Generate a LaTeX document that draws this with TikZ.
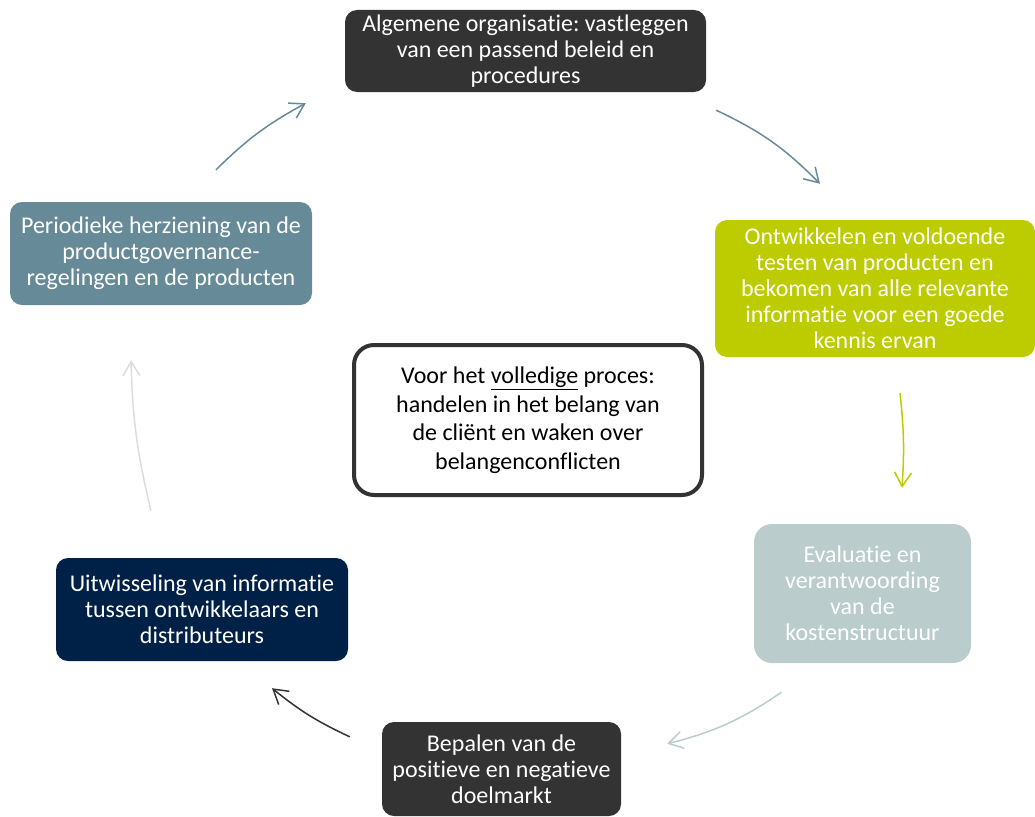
\documentclass[tikz,border=0pt]{standalone}
\usepackage{fontspec}
\setmainfont{Carlito}[Ligatures=NoCommon]
\usetikzlibrary{arrows.meta}
\definecolor{darkbox}{HTML}{333333}
\definecolor{limebox}{HTML}{BDCC00}
\definecolor{evalbox}{HTML}{BACCCC}
\definecolor{navybox}{HTML}{002147}
\definecolor{slatebox}{HTML}{678A99}
\definecolor{lightarrow}{HTML}{DCDCDC}
\tikzset{
  stage/.style={rounded corners=12pt,inner sep=0pt,text=white,align=center,
    font=\fontsize{24}{26}\selectfont},
  cyc/.style={line width=1.5pt,-{Straight Barb[length=14pt,width=17pt,line width=1.5pt]}},
}
\frenchspacing
\begin{document}
\begin{tikzpicture}[x=1pt,y=-1pt]
\useasboundingbox (0,0) rectangle (1035,816);
% the six steps of the cycle
\node (org) [stage,fill=darkbox,minimum width=361pt,minimum height=82pt] at (525.5,51)
  {Algemene organisatie: vastleggen\\van een passend beleid en\\procedures};
\node (dev) [stage,fill=limebox,minimum width=320pt,minimum height=137pt] at (875,288.5)
  {Ontwikkelen en voldoende\\testen van producten en\\bekomen van alle relevante\\informatie voor een goede\\kennis ervan};
\node (cost) [stage,fill=evalbox,rounded corners=18pt,minimum width=217pt,minimum height=139pt] at (862.5,593.5)
  {Evaluatie en\\verantwoording\\van de\\kostenstructuur};
\node (market) [stage,fill=darkbox,minimum width=239pt,minimum height=94pt] at (501.5,769)
  {Bepalen van de\\positieve en negatieve\\doelmarkt};
\node (info) [stage,fill=navybox,minimum width=292pt,minimum height=103pt] at (202,609.5)
  {Uitwisseling van informatie\\tussen ontwikkelaars en\\distributeurs};
\node (review) [stage,fill=slatebox,minimum width=302pt,minimum height=103pt] at (161,253.5)
  {Periodieke herziening van de\\productgovernance-\\regelingen en de producten};
%
\node (core) [draw=darkbox,line width=4pt,rounded corners=20pt,fill=white,inner sep=0pt,
  minimum width=348pt,minimum height=150pt,align=center,text=black,
  font=\fontsize{24}{28.5}\selectfont] at (528,420)
  {Voor het \underline{volledige} proces:\\handelen in het belang van\\de cliënt en waken over\\belangenconflicten};
%
\coordinate (a1s) at ([shift={(10,18)}]org.south east);
\coordinate (a1e) at ([shift={(-55,-36)}]dev.north);
\coordinate (a2s) at ([shift={(25,36)}]dev.south);
\coordinate (a2e) at ([shift={(39.5,-36)}]cost.north);
\coordinate (a3s) at ([shift={(-81,29)}]cost.south);
\coordinate (a3e) at ([shift={(46,22)}]market.north east);
\coordinate (a4s) at ([shift={(-32,15)}]market.north west);
\coordinate (a4e) at ([shift={(70,27)}]info.south);
\coordinate (a5s) at ([shift={(-51,-47)}]info.north);
\coordinate (a5e) at ([shift={(-30,55)}]review.south);
\coordinate (a6s) at ([shift={(55,-32)}]review.north);
\coordinate (a6e) at ([shift={(-39,11)}]org.south west);
%
\path[cyc,slatebox](a1s) edge[bend left=10] (a1e);
\path[cyc,limebox](a2s) edge[bend left=5] (a2e);
\path[cyc,evalbox](a3s) edge[bend left=10] (a3e);
\path[cyc,darkbox](a4s) edge[bend left=7] (a4e);
\path[cyc,lightarrow](a5s) edge[bend left=6] (a5e);
\path[cyc,slatebox](a6s) edge[bend left=8] (a6e);
\end{tikzpicture}
\end{document}
